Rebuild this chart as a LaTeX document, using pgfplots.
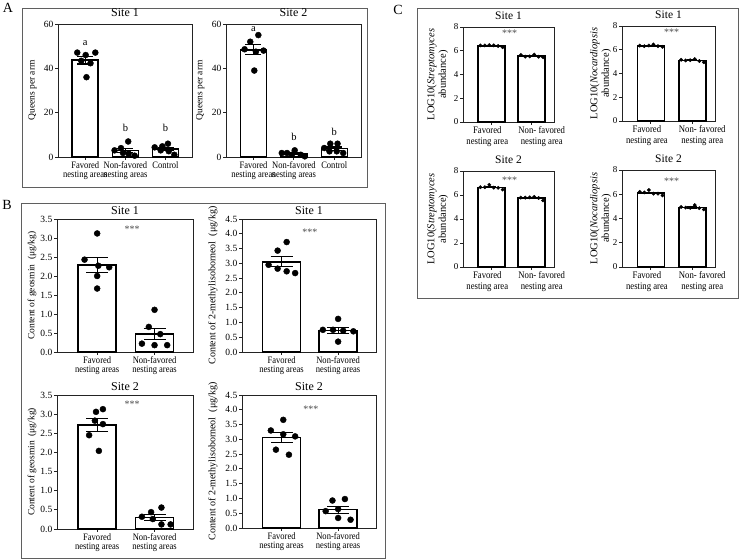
\documentclass[border=0pt]{standalone}
\usepackage{fontspec}
\setmainfont{Liberation Serif}
\newfontfamily\condfont{Liberation Serif}[FakeStretch=0.87]
\usepackage{pgfplots}
\pgfplotsset{compat=1.18}
\definecolor{framegray}{RGB}{95,95,95}
\definecolor{axgray}{RGB}{35,35,35}
\pgfplotsset{
  panel/.style={
    scale only axis, anchor=south west, clip=false,
    axis line style={line width=0.9pt, axgray},
    tick style={line width=0.9pt, axgray},
    tick align=outside, major tick length=3pt,
    xtick pos=bottom, ytick pos=left,
    /pgf/number format/assume math mode=true,
    ymin=0,
    yticklabel style={font=\fontsize{9.5}{10}\selectfont, inner sep=1.5pt},
    xticklabel style={align=center, font=\condfont\fontsize{9.8}{8.6}\selectfont, inner sep=1.5pt},
    ylabel style={font=\fontsize{9.5}{10}\selectfont, anchor=center, align=center},
    title style={font=\fontsize{12}{12}\selectfont, inner sep=1pt},
  },
  barp/.style={ybar, bar width=#1, draw=black, fill=white, line width=1.6pt, forget plot},
  errp/.style={draw=none, forget plot, error bars/.cd, y dir=both, y explicit,
     error bar style={draw=black, line width=1.1pt},
     error mark options={draw=black, rotate=90, mark size=#1, line width=1.1pt}},
  ptsp/.style={only marks, mark=*, mark size=#1, black, forget plot},
  Bpanel/.style={panel, xmin=-0.7, xmax=1.67, xtick={0,1},
     xticklabels={{Favored\\nesting areas},{Non-favored\\nesting areas}},
     yticklabel style={/pgf/number format/.cd, fixed, fixed zerofill, precision=1},
     title style={yshift=-3pt}},
  Cpanel/.style={panel, xmin=-0.7, xmax=1.55, xtick={0,1}, xticklabels={,}, ymax=8, ytick={0,2,4,6,8},
     yticklabel style={font=\fontsize{9}{9}\selectfont},
     ylabel style={font=\fontsize{10.5}{11.5}\selectfont},
     title style={font=\fontsize{11.5}{12}\selectfont}},
}
\newcommand{\stars}[2]{\node[font=\fontsize{10}{10}\selectfont, text=black!70] at (axis cs:#1,#2) {***};}
\newcommand{\cxlabels}{%
  \node[anchor=north, align=center, font=\condfont\fontsize{10}{11.5}\selectfont, xshift=-4pt, yshift=-3pt, inner sep=1pt] at (axis cs:0,0) {Favored\\nesting area};
  \node[anchor=north, align=center, font=\condfont\fontsize{10}{11.5}\selectfont, xshift=10pt, yshift=-3pt, inner sep=1pt] at (axis cs:1,0) {Non- favored\\nesting area};}
\begin{document}
\begin{tikzpicture}[x=1pt,y=1pt]
\useasboundingbox (0,0) rectangle (740,560);
% frames and panel letters
\draw[framegray, line width=0.9pt] (22,373) rectangle (367,552);
\draw[framegray, line width=0.9pt] (21,2) rectangle (385,357);
\draw[framegray, line width=0.9pt] (417,262) rectangle (738,552);
\node[font=\fontsize{14}{14}\selectfont] at (8,552) {A};
\node[font=\fontsize{14}{14}\selectfont] at (7,355) {B};
\node[font=\fontsize{14}{14}\selectfont] at (398,550) {C};

% ---------------- Panel A, Site 1
\begin{axis}[panel, at={(58pt,403pt)}, width=134pt, height=133pt,
  xmin=-0.68, xmax=2.66, ymax=60, ytick={0,20,40,60},
  xtick={0,1,2}, xticklabels={{Favored\\nesting areas},{Non-favored\\nesting areas},{Control}},
  ylabel={Queens per arm}, ylabel style={at={(axis description cs:-0.19,0.5)}},
  title={Site 1}]
\addplot[barp=26pt] coordinates {(0,43.65) (1,2.98) (2,3.63)};
\addplot[errp=8pt] coordinates {(0,43.65) +- (0,1.7) (1,2.98) +- (0,1.0) (2,3.63) +- (0,0.8)};
\addplot[ptsp=3pt] coordinates {(-0.2,47.1) (0.25,47.1) (0.01,46) (-0.1,43.4) (0.13,42.3) (0.03,36)
  (0.73,3) (0.89,4) (1.07,7) (0.94,1.8) (1.08,1.5) (1.23,0.6)
  (1.73,4.35) (1.92,4.8) (2.06,6) (1.88,3) (2.08,2.6) (2.22,1.0)};
\node[font=\fontsize{10.5}{10}\selectfont] at (axis cs:0,51.5) {a};
\node[font=\fontsize{10.5}{10}\selectfont] at (axis cs:1,13) {b};
\node[font=\fontsize{10.5}{10}\selectfont] at (axis cs:2,13) {b};
\end{axis}

% ---------------- Panel A, Site 2
\begin{axis}[panel, at={(226pt,403pt)}, width=135pt, height=133pt,
  xmin=-0.68, xmax=2.66, ymax=60, ytick={0,20,40,60},
  xtick={0,1,2}, xticklabels={{Favored\\nesting areas},{Non-favored\\nesting areas},{Control}},
  ylabel={Queens per arm}, ylabel style={at={(axis description cs:-0.19,0.5)}},
  title={Site 2}]
\addplot[barp=26pt] coordinates {(0,48.35) (1,1.48) (2,3.83)};
\addplot[errp=8pt] coordinates {(0,48.35) +- (0,2.2) (1,1.48) +- (0,0.4) (2,3.83) +- (0,0.7)};
\addplot[ptsp=3pt] coordinates {(0.12,55) (-0.08,52) (-0.22,48.6) (0.06,47.5) (0.25,48) (0.02,39)
  (0.7,1.8) (0.83,1.8) (1.02,3) (0.95,1) (1.17,1) (1.27,0.3)
  (1.75,4.05) (1.9,6) (2.08,6) (1.88,2.55) (2.06,2.55) (2.22,1.8)};
\node[font=\fontsize{10.5}{10}\selectfont] at (axis cs:0,57.7) {a};
\node[font=\fontsize{10.5}{10}\selectfont] at (axis cs:1,9) {b};
\node[font=\fontsize{10.5}{10}\selectfont] at (axis cs:2,11.3) {b};
\end{axis}

% ---------------- Panel B, geosmin Site 1
\begin{axis}[Bpanel, at={(57pt,208pt)}, width=136pt, height=133pt,
  ymax=3.5, ytick={0,0.5,...,3.5},
  ylabel={Content of geosmin\ \ (μg/kg)}, ylabel style={at={(axis description cs:-0.184,0.5)}},
  title={Site 1}]
\addplot[barp=38pt] coordinates {(0,2.29) (1,0.47)};
\addplot[errp=11pt] coordinates {(0,2.29) +- (0,0.2) (1,0.47) +- (0,0.15)};
\addplot[ptsp=3pt] coordinates {(0,3.12) (-0.22,2.43) (0.02,2.27) (0.21,2.23) (0,2.0) (0,1.67)
  (1,1.11) (0.9,0.66) (1.1,0.47) (0.78,0.22) (1,0.18) (1.22,0.18)};
\stars{0.61}{3.24}
\end{axis}

% ---------------- Panel B, MIB Site 1
\begin{axis}[Bpanel, at={(242pt,208pt)}, width=134pt, height=133pt,
  ymax=4.5, ytick={0,0.5,...,4.5},
  ylabel={Content of 2-methylisoborneol\ \ (μg/kg)}, ylabel style={at={(axis description cs:-0.216,0.5)}, font=\fontsize{10}{10}\selectfont},
  title={Site 1}]
\addplot[barp=38pt] coordinates {(0,3.05) (1,0.73)};
\addplot[errp=11pt] coordinates {(0,3.05) +- (0,0.17) (1,0.73) +- (0,0.1)};
\addplot[ptsp=3pt] coordinates {(0.09,3.72) (-0.07,3.43) (-0.23,2.95) (-0.07,2.82) (0.09,2.73) (0.24,2.67)
  (1,1.12) (0.73,0.75) (0.91,0.75) (1.09,0.72) (1.27,0.7) (1,0.35)};
\stars{0.5}{4.06}
\end{axis}

% ---------------- Panel B, geosmin Site 2
\begin{axis}[Bpanel, at={(57pt,31pt)}, width=136pt, height=134pt,
  ymax=3.5, ytick={0,0.5,...,3.5},
  ylabel={Content of geosmin\ \ (μg/kg)}, ylabel style={at={(axis description cs:-0.184,0.5)}},
  title={Site 2}]
\addplot[barp=38pt] coordinates {(0,2.71) (1,0.30)};
\addplot[errp=11pt] coordinates {(0,2.71) +- (0,0.17) (1,0.30) +- (0,0.07)};
\addplot[ptsp=3pt] coordinates {(0.1,3.13) (-0.02,3.06) (-0.04,2.83) (0.1,2.74) (-0.14,2.45) (0.03,2.04)
  (1.12,0.56) (0.94,0.44) (0.78,0.32) (0.97,0.26) (1.12,0.12) (1.28,0.12)};
\stars{0.61}{3.26}
\end{axis}

% ---------------- Panel B, MIB Site 2
\begin{axis}[Bpanel, at={(242pt,32pt)}, width=134pt, height=133pt,
  ymax=4.5, ytick={0,0.5,...,4.5},
  ylabel={Content of 2-methylisoborneol\ \ (μg/kg)}, ylabel style={at={(axis description cs:-0.216,0.5)}, font=\fontsize{10}{10}\selectfont},
  title={Site 2}]
\addplot[barp=38pt] coordinates {(0,3.06) (1,0.62)};
\addplot[errp=11pt] coordinates {(0,3.06) +- (0,0.17) (1,0.62) +- (0,0.12)};
\addplot[ptsp=3pt] coordinates {(0.03,3.66) (-0.19,3.3) (0.03,3.17) (0.24,3.1) (-0.1,2.65) (0.13,2.48)
  (0.9,0.93) (1.12,0.98) (0.78,0.57) (1,0.64) (1,0.34) (1.22,0.28)};
\stars{0.52}{4.02}
\end{axis}

% ---------------- Panel C, Streptomyces Site 1
\begin{axis}[Cpanel, at={(463pt,438pt)}, width=91pt, height=95pt,
  ylabel={LOG10(\textit{Streptomyces}\\abundance)}, ylabel style={at={(axis description cs:-0.28,0.5)}},
  title={Site 1}]
\addplot[barp=27pt] coordinates {(0,6.42) (1,5.55)};
\addplot[errp=5pt] coordinates {(0,6.42) +- (0,0.03) (1,5.55) +- (0,0.04)};
\addplot[ptsp=1.7pt] coordinates {(-0.27,6.45) (-0.16,6.45) (-0.05,6.47) (0.06,6.45) (0.17,6.4) (0.28,6.3)
  (0.73,5.65) (0.84,5.5) (0.95,5.52) (1.06,5.68) (1.17,5.5) (1.28,5.45)};
\stars{0.45}{7.45}
\cxlabels
\end{axis}

% ---------------- Panel C, Nocardiopsis Site 1
\begin{axis}[Cpanel, at={(622pt,439pt)}, width=93pt, height=95pt,
  ylabel={LOG10(\textit{Nocardiopsis}\\abundance)}, ylabel style={at={(axis description cs:-0.23,0.5)}},
  title={Site 1}]
\addplot[barp=27pt] coordinates {(0,6.33) (1,5.10)};
\addplot[errp=5pt] coordinates {(0,6.33) +- (0,0.03) (1,5.10) +- (0,0.04)};
\addplot[ptsp=1.7pt] coordinates {(-0.27,6.35) (-0.16,6.3) (-0.05,6.35) (0.06,6.45) (0.17,6.3) (0.28,6.25)
  (0.73,5.15) (0.84,5.1) (0.95,5.12) (1.06,5.22) (1.17,5.05) (1.28,4.95)};
\stars{0.5}{7.45}
\cxlabels
\end{axis}

% ---------------- Panel C, Streptomyces Site 2
\begin{axis}[Cpanel, at={(463pt,293pt)}, width=91pt, height=96pt,
  ylabel={LOG10(\textit{Streptomyces}\\abundance)}, ylabel style={at={(axis description cs:-0.28,0.5)}},
  title={Site 2}]
\addplot[barp=27pt] coordinates {(0,6.64) (1,5.75)};
\addplot[errp=5pt] coordinates {(0,6.64) +- (0,0.05) (1,5.75) +- (0,0.04)};
\addplot[ptsp=1.7pt] coordinates {(-0.27,6.65) (-0.16,6.65) (-0.05,6.85) (0.06,6.62) (0.17,6.6) (0.28,6.45)
  (0.73,5.78) (0.84,5.78) (0.95,5.8) (1.06,5.85) (1.17,5.75) (1.28,5.55)};
\stars{0.45}{7.25}
\cxlabels
\end{axis}

% ---------------- Panel C, Nocardiopsis Site 2
\begin{axis}[Cpanel, at={(622pt,293pt)}, width=93pt, height=97pt,
  ylabel={LOG10(\textit{Nocardiopsis}\\abundance)}, ylabel style={at={(axis description cs:-0.23,0.5)}},
  title={Site 2}]
\addplot[barp=27pt] coordinates {(0,6.12) (1,4.91)};
\addplot[errp=5pt] coordinates {(0,6.12) +- (0,0.06) (1,4.91) +- (0,0.05)};
\addplot[ptsp=1.7pt] coordinates {(-0.27,6.2) (-0.16,6.15) (-0.05,6.35) (0.06,6.05) (0.17,6.05) (0.28,5.9)
  (0.73,4.95) (0.84,4.9) (0.95,4.88) (1.06,5.1) (1.17,4.85) (1.28,4.75)};
\stars{0.5}{7.1}
\cxlabels
\end{axis}
\end{tikzpicture}
\end{document}
